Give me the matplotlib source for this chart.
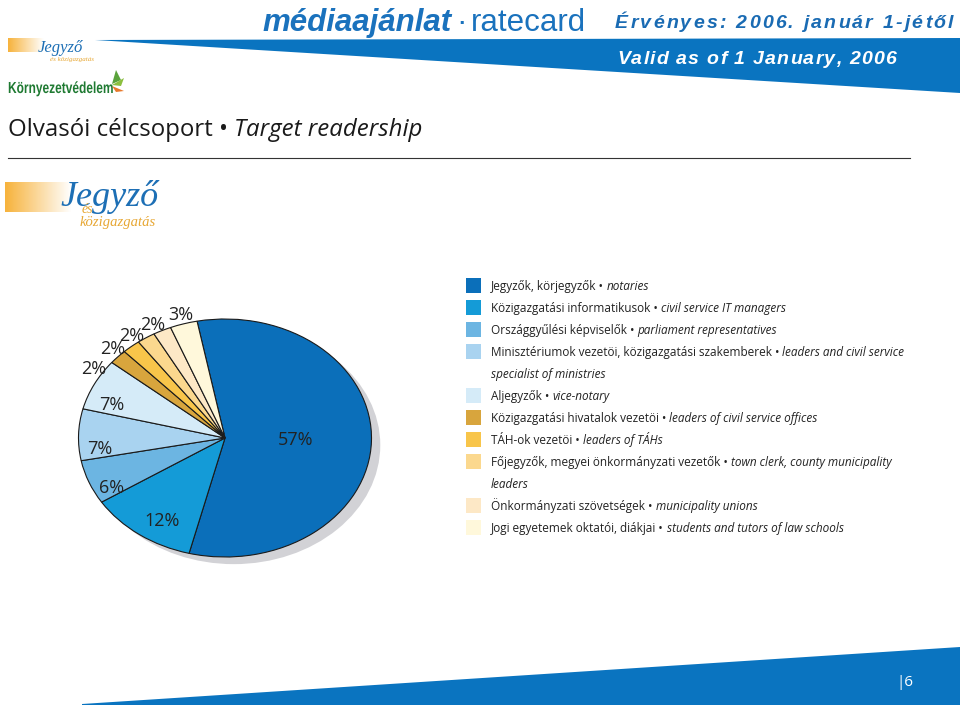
import numpy as np
import matplotlib
matplotlib.use('Agg')
import matplotlib.pyplot as plt
from matplotlib.patches import Polygon, Ellipse, Rectangle, PathPatch
from matplotlib.textpath import TextPath
from matplotlib.font_manager import FontProperties
from matplotlib.transforms import Affine2D

# pie data (clockwise from the top)
shares = [57, 12, 6, 7, 7, 2, 2, 2, 2, 3]
pct_labels = ['57%', '12%', '6%', '7%', '7%', '2%', '2%', '2%', '2%', '3%']
colors = ['#0b6fba', '#149bd7', '#6cb5e2', '#a9d3f0', '#d5ebf8',
          '#d8a53d', '#f8c54a', '#fbd88e', '#fde8c6', '#fff8db']

# legend: hungarian / english, second line if wrapped
leg_hu = ['Jegyzők, körjegyzők', 'Közigazgatási informatikusok', 'Országgyűlési képviselők',
          'Minisztériumok vezetöi, közigazgatási szakemberek', 'Aljegyzők',
          'Közigazgatási hivatalok vezetöi', 'TÁH-ok vezetöi',
          'Főjegyzők, megyei önkormányzati vezetők', 'Önkormányzati szövetségek',
          'Jogi egyetemek oktatói, diákjai']
leg_en = ['notaries', 'civil service IT managers', 'parliament representatives',
          'leaders and civil service', 'vice-notary', 'leaders of civil service offices',
          'leaders of TÁHs', 'town clerk, county municipality', 'municipality unions',
          'students and tutors of law schools']
leg_en2 = ['', '', '', 'specialist of ministries', '', '', '', 'leaders', '', '']

W, H = 960, 705
fig = plt.figure(figsize=(W / 100, H / 100), dpi=100)
bg = fig.add_axes([0, 0, 1, 1])
bg.set_xlim(0, W)
bg.set_ylim(H, 0)
bg.axis('off')
rend = fig.canvas.get_renderer()

blue = '#0a74c0'
body = 'Open Sans'


def text_end(t):
    # x (data) where a text object ends
    bb = t.get_window_extent(rend)
    return bg.transData.inverted().transform((bb.x1, bb.y0))[0]


def spaced(x, y, s, extra, **kw):
    # draw a string char by char with extra tracking
    for c in s:
        t = bg.text(x, y, c, va='baseline', **kw)
        x = text_end(t) + extra


# header banner
bg.add_patch(Polygon([(95, 40), (960, 38), (960, 93)], closed=True, color=blue, lw=0))
t = bg.text(262, 31, 'médiaajánlat', fontsize=22.5, fontweight='bold', fontstyle='italic',
            color='#1a72bd', family='Liberation Sans', va='baseline')
t = bg.text(text_end(t) + 5, 31, '·', fontsize=22.5,
            color='#1a72bd', family='Liberation Sans', va='baseline')
bg.text(text_end(t) + 4, 31, 'ratecard', fontsize=22.5, color='#1a72bd',
        family='Liberation Sans', va='baseline')
hdr = dict(fontsize=14, fontweight='bold', fontstyle='italic', family='Liberation Sans')
spaced(615, 28, 'Érvényes: 2006. január 1-jétől', 2.2, color='#1a6bb3', **hdr)
spaced(617, 64, 'Valid as of 1 January, 2006', 1.2, color='white', **hdr)

# small logos, top left
grad = np.linspace(1, 0, 50).reshape(1, -1)
orange = matplotlib.colors.LinearSegmentedColormap.from_list('o', ['#ffffff', '#f7b33d'])
bg.imshow(grad, extent=(8, 44, 52, 38), cmap=orange, aspect='auto', zorder=1)
bg.text(38, 52, 'Jegyző', fontsize=12, fontstyle='italic', color='#1d6fb5',
        family='Liberation Serif', va='baseline')
bg.text(50, 61, 'és közigazgatás', fontsize=5, fontstyle='italic', color='#e7a733',
        family='Liberation Serif', va='baseline')
tp = TextPath((0, 0), 'Környezetvédelem', size=16,
              prop=FontProperties(family='Liberation Sans', weight='bold'))
sx = 104 / tp.get_extents().width
tp = tp.transformed(Affine2D().scale(sx, -1).translate(8, 93))
bg.add_patch(PathPatch(tp, color='#1f7a32', lw=0))
bg.add_patch(Polygon([(112, 84), (116, 70), (121, 80)], closed=True, color='#5aa33c', lw=0))
bg.add_patch(Polygon([(112, 85), (124, 78), (121, 86)], closed=True, color='#8cbf3f', lw=0))
bg.add_patch(Polygon([(112, 86), (124, 91), (116, 92)], closed=True, color='#e8782a', lw=0))

# title
t = bg.text(8, 136, 'Olvasói célcsoport • ', fontsize=17.3, color='#1a1a1a', family=body,
            va='baseline')
bg.text(text_end(t), 136, 'Target readership', fontsize=17.3, fontstyle='italic',
        color='#1a1a1a', family=body, va='baseline')
bg.plot([8, 910], [158, 158], color='#333333', lw=0.8)

# big logo
bg.imshow(grad, extent=(5, 72, 212, 182), cmap=orange, aspect='auto', zorder=1)
bg.text(60, 206, 'Jegyző', fontsize=26, fontstyle='italic', color='#1d6fb5',
        family='Liberation Serif', va='baseline')
bg.text(82, 213, 'és', fontsize=10, fontstyle='italic', color='#e7a733',
        family='Liberation Serif', va='baseline', zorder=5)
bg.text(80, 226, 'közigazgatás', fontsize=10.5, fontstyle='italic', color='#e7a733',
        family='Liberation Serif', va='baseline')

# legend
row = 0
for i in range(len(shares)):
    y = 286 + row * 22
    bg.add_patch(Rectangle((466, y - 8), 15, 15, color=colors[i], lw=0))
    t = bg.text(491, y + 4, leg_hu[i] + ' • ', fontsize=8.5, color='#222222', family=body,
                va='baseline')
    bg.text(text_end(t), y + 4, leg_en[i], fontsize=8.5, fontstyle='italic',
            color='#222222', family=body, va='baseline')
    row += 1
    if leg_en2[i]:
        bg.text(491, 286 + row * 22 + 4, leg_en2[i], fontsize=8.5, fontstyle='italic',
                color='#222222', family=body, va='baseline')
        row += 1

# footer
bg.add_patch(Polygon([(82, 704), (960, 647), (960, 705), (82, 705)], closed=True,
                     color=blue, lw=0))
bg.text(896, 686, '|6', fontsize=11, color='white', family=body, va='baseline')

# pie in its own axes, stretched to an ellipse
cx, cy, rx, ry = 225, 438, 146.5, 119
x0, x1, y0, y1 = -1.1, 1.15, -1.15, 1.1
left = cx + x0 * rx
bottom = cy - y0 * ry
pax = fig.add_axes([left / W, (H - bottom) / H, (x1 - x0) * rx / W, (y1 - y0) * ry / H])
pax.add_patch(Ellipse((0.06, -0.06), 2, 2, color='#d2d2d6', lw=0, zorder=0))
wedges, _ = pax.pie(shares, colors=colors, startangle=101, counterclock=False,
                    radius=1, wedgeprops=dict(edgecolor='#1a1a1a', linewidth=0.8))
pax.set_aspect('auto')
pax.set_xlim(x0, x1)
pax.set_ylim(y0, y1)
pax.axis('off')

label_r = [0.48, 0.82, 0.88, 0.86, 0.82, 1.07, 1.07, 1.07, 1.07, 1.08]
label_shift = [0, 4, 7, 8, 7, 10, 6, 4, 2, 0]
for w, lab, r, s in zip(wedges, pct_labels, label_r, label_shift):
    ang = np.deg2rad((w.theta1 + w.theta2) / 2 + s)
    pax.text(r * np.cos(ang), r * np.sin(ang), lab, ha='center', va='center',
             fontsize=13, color='#222222', family=body)

fig.savefig('out.png', dpi=100)
